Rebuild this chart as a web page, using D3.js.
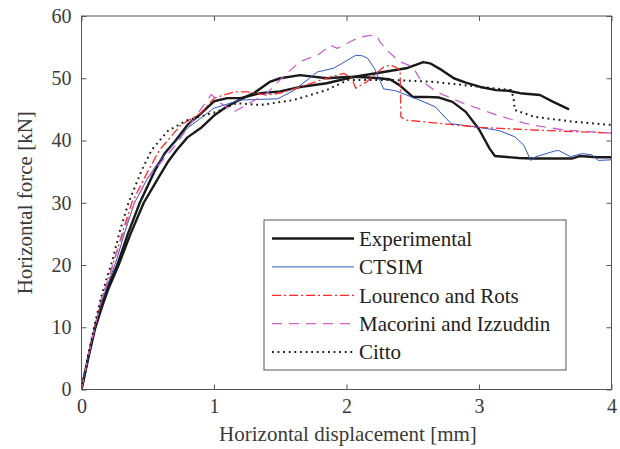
<!DOCTYPE html>
<html><head><meta charset="utf-8">
<script src="https://cdn.jsdelivr.net/npm/d3@7"></script>
<style>body{margin:0;background:#fff} text{font-family:"Liberation Serif","Times New Roman",Tinos,Times,"Nimbus Roman","DejaVu Serif",serif}</style>
</head><body>
<svg id="c" width="620" height="449"></svg>
<script>
const xTicks=[0,1,2,3,4];
const yTicks=[0,10,20,30,40,50,60];
const seriesNames=["Experimental","CTSIM","Lourenco and Rots","Macorini and Izzuddin","Citto"];
const expA=[[0,0],[0.05,5],[0.1,9.8],[0.15,13.5],[0.2,16.5],[0.27,20],[0.35,25],[0.44,30],[0.55,35],[0.63,38],[0.71,40],[0.8,42.5],[0.9,44.3],[1.0,46.3],[1.1,46.8],[1.2,46.8],[1.35,47.6],[1.5,47.9],[1.65,48.6],[1.85,49.2],[2.05,50.2],[2.28,51],[2.45,51.6],[2.58,52.6],[2.63,52.4],[2.72,51.3],[2.81,50],[2.9,49.3],[3.01,48.6],[3.13,48.1],[3.22,48],[3.31,47.6],[3.46,47.3],[3.56,46.2],[3.68,45]];
const expB=[[0,0],[0.05,5],[0.1,9.6],[0.15,13],[0.2,16],[0.28,20],[0.37,25],[0.47,30],[0.58,34],[0.65,36.5],[0.72,38.5],[0.8,40.5],[0.9,42],[1.0,44],[1.1,45.5],[1.2,46.6],[1.3,47.6],[1.42,49.4],[1.5,50],[1.65,50.5],[1.85,50],[2.0,50.2],[2.1,50.2],[2.25,50],[2.33,49.8],[2.4,48.9],[2.5,47],[2.6,47],[2.7,46.9],[2.8,46.2],[2.9,44.6],[3.0,41.8],[3.08,38.7],[3.12,37.5],[3.3,37.2],[3.4,37.1],[3.55,37.1],[3.7,37.1],[3.76,37.5],[3.89,37.3],[4.0,37.3]];
const ctsim=[[0,0],[0.05,5.2],[0.1,10],[0.15,14],[0.2,17],[0.26,20.5],[0.33,25.5],[0.4,30],[0.5,34],[0.58,36.5],[0.66,38.5],[0.8,42],[1.0,45.2],[1.2,46.5],[1.48,46.7],[1.6,48],[1.78,51],[1.9,51.6],[1.96,52.3],[2.07,53.7],[2.12,53.6],[2.16,53.2],[2.21,51.6],[2.28,48.3],[2.37,48],[2.55,46.5],[2.67,45.4],[2.79,42.7],[2.97,42.2],[3.15,41.6],[3.27,40.6],[3.34,39.2],[3.39,36.8],[3.43,37.4],[3.57,38.3],[3.6,38.4],[3.69,37.4],[3.78,37.9],[3.85,37.7],[3.9,36.8],[4.0,36.9]];
const lourenco=[[0,0],[0.05,5.3],[0.1,10],[0.15,14.5],[0.2,17.5],[0.25,21],[0.32,26],[0.38,30],[0.5,35],[0.59,38.5],[0.75,42.5],[0.9,44.4],[1.0,46.8],[1.15,47.8],[1.25,47.8],[1.4,47.3],[1.5,47.6],[1.65,48.6],[1.85,50],[1.98,50.8],[2.04,50],[2.07,48.4],[2.15,49.4],[2.28,51.8],[2.33,52.1],[2.37,51.8],[2.405,51.3],[2.41,43.8],[2.44,43.3],[3.01,42.1],[3.5,41.6],[4.0,41.2]];
const macorini=[[0,0],[0.05,5.3],[0.1,10],[0.15,14.5],[0.2,17.5],[0.25,21],[0.33,26],[0.4,30],[0.5,34],[0.6,36.5],[0.7,39],[0.8,42],[0.9,45],[0.98,47.4],[1.05,46],[1.15,44.6],[1.22,45.4],[1.4,47.6],[1.52,50.2],[1.65,52.7],[1.78,53.7],[1.88,55.3],[1.93,54.8],[2.03,55.9],[2.1,56.6],[2.18,56.9],[2.23,56.8],[2.25,55.9],[2.33,54],[2.4,52.7],[2.5,51.8],[2.56,49.7],[2.68,47.8],[2.88,46],[3.13,44.1],[3.39,42.5],[3.64,41.7],[4.0,41.2]];
const citto=[[0,0],[0.05,5.5],[0.1,10.5],[0.15,15],[0.2,18.5],[0.23,20.5],[0.29,25.5],[0.355,30],[0.45,35],[0.53,38.5],[0.65,41.5],[0.79,43.2],[1.02,44.6],[1.17,46],[1.35,45.7],[1.6,46.5],[1.85,48.1],[2.01,49.7],[2.37,49.7],[2.67,49.4],[2.97,48.7],[3.24,48.1],[3.26,47],[3.27,44.9],[3.42,43.8],[3.72,43],[4.0,42.5]];

const svg=d3.select("#c");
const L=81.5,R=611.5,T=16,B=389.5;
const x=d3.scaleLinear().domain([0,4]).range([L,R]);
const y=d3.scaleLinear().domain([0,60]).range([B,T]);
const txt="#3a3a3a";

const styles=[
 {data:expA,color:"#1a1a1a",w:2.4,dash:null},
 {data:expB,color:"#1a1a1a",w:2.4,dash:null},
 {data:ctsim,color:"#3355c0",w:1,dash:null},
 {data:lourenco,color:"#ff2a2a",w:1.3,dash:"9,3,2,3"},
 {data:macorini,color:"#c966c9",w:1.3,dash:"10,7"},
 {data:citto,color:"#1a1a1a",w:2,dash:"1.8,3.8"}
];
const line=d3.line().x(d=>x(d[0])).y(d=>y(d[1]));
svg.append("defs").append("clipPath").attr("id","cp").append("rect").attr("x",L).attr("y",T).attr("width",R-L).attr("height",B-T);
const g=svg.append("g").attr("clip-path","url(#cp)");
styles.forEach(s=>{
  g.append("path").attr("d",line(s.data)).attr("fill","none").attr("stroke",s.color)
   .attr("stroke-width",s.w).attr("stroke-linejoin","round").attr("stroke-dasharray",s.dash);
});

const ax=svg.append("g").attr("stroke","#555").attr("fill","none");
ax.append("rect").attr("x",L).attr("y",T).attr("width",R-L).attr("height",B-T).attr("stroke-width",1);
const xb=svg.append("g").attr("transform",`translate(0,${B})`).call(d3.axisBottom(x).tickValues(xTicks).tickSize(-5).tickPadding(9).tickFormat(d3.format("d")));
const xt=svg.append("g").attr("transform",`translate(0,${T})`).call(d3.axisTop(x).tickValues(xTicks).tickSize(-5).tickFormat(""));
const yl=svg.append("g").attr("transform",`translate(${L},0)`).call(d3.axisLeft(y).tickValues(yTicks).tickSize(-5).tickPadding(10).tickFormat(d3.format("d")));
const yr=svg.append("g").attr("transform",`translate(${R},0)`).call(d3.axisRight(y).tickValues(yTicks).tickSize(-5).tickFormat(""));
[xb,xt,yl,yr].forEach(a=>{a.attr("font-family",null);a.select(".domain").remove();a.selectAll("line").attr("stroke","#555");
  a.selectAll("text").attr("font-size",20).attr("fill",txt);});

svg.append("text").attr("x",348).attr("y",441).attr("text-anchor","middle")
  .attr("font-size",21).attr("fill",txt).text("Horizontal displacement [mm]");
svg.append("text").attr("transform",`translate(25,${(T+B)/2}) rotate(-90)`).attr("text-anchor","middle").attr("dominant-baseline","central")
  .attr("font-size",21).attr("fill",txt).text("Horizontal force [kN]");

const lg=svg.append("g");
lg.append("rect").attr("x",264).attr("y",220).attr("width",302).attr("height",150).attr("fill","#fff").attr("stroke","#555").attr("stroke-width",1);
const legStyles=[styles[0],styles[2],styles[3],styles[4],styles[5]];
seriesNames.forEach((n,i)=>{
  const yy=238.5+i*28.4;
  const s=legStyles[i];
  lg.append("line").attr("x1",272).attr("x2",354).attr("y1",yy).attr("y2",yy).attr("stroke",s.color)
    .attr("stroke-width",s.w).attr("stroke-dasharray",s.dash);
  lg.append("text").attr("x",359).attr("y",yy).attr("dy","0.35em").attr("font-size",21).attr("fill","#222").text(n);
});
</script>
</body></html>
